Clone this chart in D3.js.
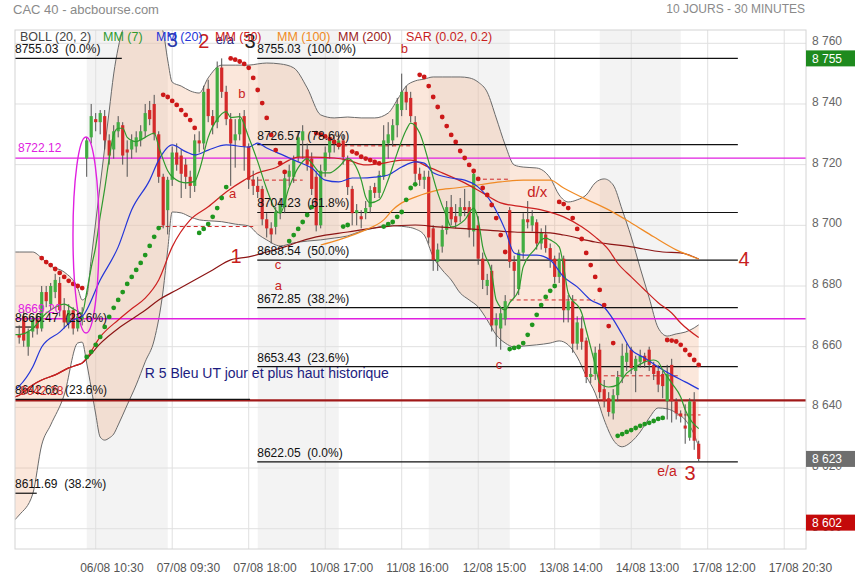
<!DOCTYPE html>
<html><head><meta charset="utf-8">
<script src="https://cdn.jsdelivr.net/npm/d3@7"></script>
<style>
body{margin:0;background:#fff}
svg{display:block}
text{font-family:"Liberation Sans",Arial,sans-serif}
</style></head>
<body><svg id="chart" width="855" height="580"></svg>
<script>
// ---------- DATA (30-minute candles, index 0 = 05/08 11:30) ----------
const opens=[8664,8670,8660,8665,8669,8666,8678,8674,8678,8681,
8672,8668,8672,8666,8669,8722,8729,8735,8734,8736,
8728,8725,8731,8733,8725,8725,8726,8728,8731,8738,
8740,8730,8716,8705,8715,8724,8723,8720,8716,8713,
8728,8727,8745,8736,8734,8752,8744,8735,8728,8730,
8736,8726,8715,8713,8712,8702,8699,8699.5,8704,8706,
8716,8716,8722.5,8728,8725,8722,8716,8700,8718,8724,
8728,8727,8728,8721.5,8712,8704,8703,8704,8706,8712.6,
8710.7,8716,8727,8728,8733,8738,8744,8742,8734,8717,
8715,8716,8699,8688,8693,8698.5,8706,8703,8703,8706,
8706,8698,8700,8689,8680,8685,8667,8666,8669,8705,
8688,8679,8691,8702,8700,8701,8694,8697,8692.5,8689,
8683,8689,8672,8675,8661,8666,8662,8650,8651,8659,
8646,8643,8638,8644,8650,8655,8659,8652,8655,8657,
8659,8654,8652,8651,8642,8654,8642,8638,8634,8630,
8642,8628];
const highs=[8667,8672,8666,8670,8671,8680,8680,8681,8684,8683,
8676,8674,8673,8672,8673,8729,8740,8737,8738,8738,
8730,8733,8736,8734,8728,8730,8731,8733,8740,8741,
8743,8731,8717,8716,8726,8727,8725,8722,8718,8730,
8731,8746,8748,8738,8754,8755.03,8746,8737,8735,8737,
8738,8727,8718,8716,8713,8704,8701,8706,8709,8717,
8720,8723,8731,8733,8727,8724,8718,8720,8726,8730,
8730,8730,8730,8723,8713,8707,8705,8708,8713,8714,
8718,8733,8734,8735,8742,8750,8746,8744,8736,8719,
8718,8718,8700,8694,8700,8708,8710,8707,8709,8712,
8708,8718,8703,8691,8684,8687,8671,8673,8677,8706,
8690,8692,8704,8708,8705,8702,8699,8700,8694,8690,
8691,8690,8677,8677,8670,8670,8663,8653,8660,8661,
8649,8645,8646,8652,8661,8661,8660,8657,8659,8658,
8660,8655,8654,8652,8654,8656,8643,8639,8641,8643,
8645,8629];
const lows=[8661,8660,8657,8663,8664,8665,8673,8672,8676,8670,
8666,8666,8664,8665,8667,8716,8727,8731,8730,8725,
8720,8722,8729,8720,8716,8722,8724,8726,8729,8733,
8728,8714,8699,8697,8713,8718,8709,8712,8709,8711,
8724,8725,8734,8730,8732,8742,8733,8713,8719,8728,
8718,8712,8710,8709,8700,8696,8694,8697,8702,8704,
8713,8714,8721,8722,8718,8710,8698,8699,8716,8722,
8724,8725,8720,8710,8700,8700,8699,8702,8704,8709,
8709,8715,8722,8726,8729,8736,8738,8734,8714,8713,
8712,8694,8685,8685,8691,8697,8700,8699,8701,8703,
8696,8693,8687,8679,8677,8665,8660,8659,8667,8686,
8676,8677,8689,8699,8698,8692,8692,8691,8686,8681,
8681,8668,8668,8658,8659,8659,8648,8648,8649,8643,
8640,8637,8636,8642,8648,8652,8651,8645,8653,8653,
8652,8649,8645,8643,8636,8635,8636,8635,8628,8629,
8626,8622.05];
const closes=[8663,8662,8665,8669,8666,8678,8675,8680,8682,8672,
8668,8672,8666,8670,8670,8728,8736,8734,8737,8728,
8723,8731,8734,8723,8724,8728,8729,8731,8737,8735,
8730,8716,8700,8715,8724,8720,8717,8716,8713,8728,
8727,8744,8736,8733,8752,8744,8735,8727,8730,8735,
8726,8715,8713,8711,8702,8699,8697,8704.5,8707,8715.5,
8718,8721.5,8729,8731,8720,8712,8700,8718,8724,8729,
8727,8728,8722.5,8712.6,8704,8705,8702,8705.7,8711.6,8710.7,
8716.6,8728,8730,8733,8740,8744,8740.5,8736,8717,8715,
8716,8696,8688.6,8692,8698.5,8706,8702,8701,8706,8705,
8698.5,8717,8689,8682,8682,8667,8669,8671,8675,8688,
8685,8691,8702,8701,8703,8694,8697.5,8692.5,8688.6,8683,
8689,8672,8675,8661,8668,8661.6,8650,8651,8658,8645,
8642,8638.5,8644,8650,8657,8658,8653,8656,8657,8655,
8654,8651,8647.5,8647,8651,8642,8638,8637,8633,8642,
8629,8623];

// Moving averages: [candle index, value]
const mm7=[[-1,8664],[0,8664],[3,8666],[6,8671],[8,8673],[10,8674],[12,8672.5],[14,8671],[15,8678],[16,8686],[17,8693],[18,8703],[19,8712],[20,8722],[21,8730],[22,8732],[23,8732],[24,8729],[26,8727.6],[28,8729],[30,8730.4],[31,8726],[33,8718],[34,8716],[37,8714],[39,8714.5],[40,8718],[42,8729],[44,8735],[46,8737.5],[47,8735.5],[49,8735.8],[51,8729],[53,8721],[55,8712],[57,8705],[58,8704],[60,8712.6],[62,8719],[64,8722],[65,8720.5],[67,8717.3],[69,8717.3],[71,8719.2],[73,8722],[76,8715],[77,8709.3],[78,8707.4],[80,8708.4],[82,8715],[84,8723.8],[86,8731.4],[87,8733.7],[89,8730.4],[91,8721],[93,8710.7],[95,8702.8],[96,8699.5],[99,8701.8],[101,8705.7],[102,8701.8],[103,8692.9],[105,8684.3],[106,8675.4],[108,8672.1],[109,8674.5],[111,8678.7],[112,8686.3],[115,8692.9],[116,8695.2],[117,8695.8],[118,8695.2],[120,8692.9],[121,8686.3],[122,8677.7],[125,8671.1],[126,8665.5],[128,8654],[129,8648],[131,8646.7],[133,8647.4],[135,8651.3],[137,8653.3],[139,8655],[141,8655.6],[142,8655],[143,8652.3],[145,8648],[147,8643.4],[148,8639.2],[151,8633]];
const mm20=[[-1,8645.7],[0,8647],[3,8653.3],[5,8659.9],[9,8664.8],[12,8668.8],[14,8670],[18,8682],[22,8692.9],[25,8705.1],[29,8714.9],[31,8721.5],[34,8726.5],[37,8724.3],[39,8723.2],[42,8724.8],[46,8726.5],[51,8725.8],[53,8727.1],[55,8725.5],[59,8722.9],[62,8720.9],[65,8718.9],[68,8714.9],[71,8714.3],[74,8715.6],[76,8715.6],[79,8715.9],[82,8716.6],[85,8719.2],[88,8720.9],[90,8720.5],[92,8717.3],[96,8715.6],[99,8714.9],[102,8712.6],[105,8707.4],[108,8698.5],[110,8690.9],[112,8690.2],[115,8690.2],[118,8688.6],[121,8683],[124,8679.7],[127,8675.4],[130,8673],[132,8669],[134,8664],[136,8659],[139,8656.3],[142,8653.3],[145,8650.7],[148,8648.4],[151,8646]];
const mm50=[[-1,8643.4],[0,8644],[3,8647.4],[5,8649],[8,8650.7],[11,8653],[13,8654],[14,8654.6],[15,8656.3],[18,8663.2],[22,8668.8],[25,8672.5],[28,8676],[31,8682],[34,8692.9],[38,8701.8],[42,8706.1],[46,8711],[50,8714.9],[53,8717.3],[57,8719],[60,8721.5],[62,8722.5],[65,8722.5],[70,8722.2],[73,8721.5],[77,8719.9],[81,8720.5],[85,8721.5],[87,8721.5],[91,8719.2],[94,8717.3],[99,8714],[103,8710.7],[107,8707.4],[112,8706.1],[116,8705.1],[121,8702.8],[125,8699.5],[128,8696.2],[131,8691.9],[133,8687.5],[136,8683],[139,8678.7],[142,8674.5],[145,8671.1],[147,8667.8],[151,8663]];
const mm100=[[67,8693.5],[71,8695.2],[73,8696.2],[77,8698.5],[81,8701.8],[83,8705.1],[85,8707.4],[88,8709.3],[93,8711.6],[97,8712.3],[102,8713.3],[107,8714.3],[112,8714.9],[118,8714.9],[121,8712.3],[125,8709.3],[131,8705.1],[136,8700.8],[141,8696.2],[146,8691.9],[151,8688.9]];
const mm200=[[-1,8643.4],[0,8644],[3,8647.4],[5,8649],[8,8650.7],[11,8653],[13,8654],[14,8654.6],[15,8656],[18,8661],[22,8666],[26,8670],[28,8672],[31,8675.4],[35,8678.7],[39,8682],[43,8685.3],[47,8688.6],[51,8689.6],[55,8691.2],[59,8692.9],[62,8694.5],[66,8696.2],[73,8697.8],[81,8699.5],[88,8700.1],[93,8699.5],[97,8699.1],[103,8698.5],[110,8697.8],[118,8697.5],[121,8696.8],[128,8694.5],[136,8692.9],[143,8691.2],[147,8690.9],[151,8688.9]];

// Bollinger (20,2)
const bbG=[-1,0,3,5,7,10,13,14,15,16,17,18,19,20,21,22,24,26,28,30,32,33,34,36,38,40,42,45,48,51,53,55,58,61,64,67,70,73,76,79,82,84,86,88,90,92,94,96,98,100,102,104,106,108,110,112,115,118,120,122,124,126,128,130,132,134,136,138,140,142,144,146,148,150,151];
const bbUp=[8691.2,8691.2,8691.2,8689.2,8686.6,8684.6,8679.3,8675.4,8676.7,8688.9,8701.1,8713.3,8725.5,8737.7,8749.9,8758.5,8768.3,8771.6,8771.6,8769.3,8763.7,8754.5,8747.2,8745.9,8744.3,8743.6,8748.6,8752.8,8752.8,8752.8,8753.2,8753.5,8753.2,8751.9,8745.3,8736.4,8735.4,8735.7,8735.4,8735.4,8737,8741.3,8745.9,8747.6,8748.2,8748.9,8748.9,8748.9,8748.9,8748.6,8747.2,8743.9,8735.4,8726.5,8719.9,8719.2,8718.9,8715.6,8710,8707.7,8708.4,8710,8714,8715.3,8713.3,8705.1,8696.2,8685.9,8676.1,8666.2,8663.5,8664.2,8664.8,8666.2,8667.2];
const bbLo=[8602.9,8604.5,8611.4,8627.6,8634.2,8644.1,8661.2,8661.5,8654.6,8646.4,8637.8,8630.2,8629.2,8629.9,8631.2,8634.2,8640.8,8647.4,8655,8662.2,8678.7,8691.9,8704.4,8704.1,8702.8,8701.8,8701.5,8701.2,8700.4,8699.8,8697.1,8695.2,8693.2,8694.2,8694.8,8695.2,8695.8,8696.5,8698.1,8699.1,8700.1,8699.8,8699.5,8698.8,8696.8,8689.6,8685.3,8682,8677.7,8675.4,8673.1,8668.8,8663.9,8661.2,8659.9,8660.2,8660.6,8661.2,8661.9,8660.6,8656.6,8650.3,8644.7,8635.9,8629.3,8627,8628.6,8631.9,8636.5,8639.8,8639.5,8638.2,8635.9,8631,8627];

// Parabolic SAR (0.02, 0.2): values from candle 5 on, side flips at listed indices
const sarStart=5;
const sarValues=[8689.2,8687.9,8686.9,8685.6,8684.3,8683.0,8681.7,8680.7,8680.0,8679.3,
8656.6,8658.3,8660.6,8663.2,8666.5,8669.8,8672.8,8675.4,8678.0,8680.7,8683.0,8685.3,8687.6,8690.2,8693.2,8696.2,8699.1,
8743.0,8742.3,8741.0,8739.7,8738.0,8736.4,8734.7,8732.1,
8697.5,8698.8,8700.4,8702.8,8705.7,8709.0,8712.6,
8755.0,8754.6,8754.0,8753.2,8751.9,8748.6,8744.6,8740.3,8735.4,8729.8,8724.8,8720.5,8717.6,
8694.8,8696.8,8698.8,8701.1,8703.4,8706.0,
8730.4,8729.9,8729.3,8728.5,8727.5,8726.5,
8699.6,8700.1,
8724.3,8723.7,8722.6,8722.0,8721.5,8720.9,8720.4,
8699.6,8700.4,8701.1,8702.8,8704.4,8708.4,8712.3,8713.5,
8749.6,8748.9,8745.9,8742.3,8739.0,8735.7,8732.7,8729.8,8727.5,8724.5,8722.2,8719.9,8717.9,8715.3,8712.3,8710.0,8706.7,8702.4,8696.8,8691.2,
8659.2,8659.6,8659.9,8661.2,8663.9,8667.2,8670.5,8673.7,8676.4,8678.4,8680.0,
8707.7,8707.0,8705.7,8702.4,8698.8,8695.5,8690.9,8686.9,8683.0,8678.7,8673.7,8666.8,8661.2,
8630.6,8631.2,8631.9,8632.5,8633.2,8633.9,8634.5,8634.9,8635.5,8636.2,8636.5,
8662.2,8662.0,8661.7,8660.6,8658.9,8657.3,8655.6,8654.0];
const sarFlips=[15,32,40,47,60,66,72,74,81,89,109,120,133,144]; // first segment above price

// Axis
const yTicks=[8600,8620,8640,8660,8680,8700,8720,8740,8760];
const yTickLabels=["8 600","8 620","8 640","8 660","8 680","8 700","8 720","8 740","8 760"];
const xTickG=[17,34,51,68,85,102,119,136,153,170];
const xTickLabels=["06/08 10:30","07/08 09:30","07/08 18:00","10/08 17:00","11/08 16:00","12/08 15:00","13/08 14:00","14/08 13:00","17/08 12:00","17/08 20:30"];
const dayBands=[[15,33],[53,71],[91,109],[129,147]];

// Drawings
const fibRight=[[8755.03,"100.0%"],[8726.57,"78.6%"],[8704.23,"61.8%"],[8688.54,"50.0%"],[8672.85,"38.2%"],[8653.43,"23.6%"],[8622.05,"0.0%"]];
const fibRightRange=[52.9,159.7];
const fibLeft=[[8755.03,"0.0%",22.8],[8666.47,"23.6%",3.6],[8642.66,"23.6%",51.3],[8611.69,"38.2%",3.9]];
const hLevels=[[8722.12,"8722.12"],[8669.20,"8669.20"]];
const resistance=8642.28;
const dashLevels=[[31,52,8699.6],[51.5,63,8714.9],[72,88,8726.2],[101.5,109,8715.2],[109,128,8675.4],[126.8,146.8,8650.4],[146.2,151.4,8637.5]];
const waveLabels=[["3",34,8758.9,"blue",20],["2",41,8758.6,"red",20],["e/a",45.7,8759.8,"navy",13],["3",51.3,8758.6,"dark",20],
["b",49.5,8742,"red",13],["a",47.4,8709,"red",13],["1",48.2,8687.6,"red",20],["c",57.5,8685.6,"red",13],["a",57.6,8678.7,"red",13],
["b",85.6,8756.8,"red",13],["d/x",115.1,8709.3,"red",15],["c",106.6,8652.6,"red",13],["4",161.1,8686.6,"red",20],
["e/a",143.95,8617.4,"red",14],["3",149.1,8616.1,"red",20]];
const noteText=["R 5 Bleu UT jour et plus haut historique",27.9,8649.7];
const ellipse=[14.85,8696.8,2.9,32.3];
const tagValues=[8755.03,8623,8602];
const tagLabels=["8 755","8 623","8 602"];

// ---------- DRAW ----------
const P={l:15,r:806,t:30,b:549};
const xs=d3.scaleLinear().domain([0,151]).range([19.2,698.7]);
const ys=d3.scaleLinear().domain([8600,8760]).range([528.7,43.3]);
const svg=d3.select("#chart");
const FONT='"Liberation Sans",Arial,sans-serif';
const C={green:"#42ad42",red:"#d42a2a",mm7:"#2f9a2f",mm20:"#2436d8",mm50:"#cc2020",mm100:"#f08a24",mm200:"#8c1414",
  magenta:"#e020e0",sarR:"#cc1818",sarG:"#1f961f",navy:"#1c1c80",blue:"#2a3aa8",dark:"#222"};

svg.append("rect").attr("width",855).attr("height",580).attr("fill","#fff");
svg.append("defs").append("clipPath").attr("id","clip").append("rect")
  .attr("x",P.l).attr("y",P.t).attr("width",P.r-P.l).attr("height",P.b-P.t);

// title
svg.append("text").attr("x",13).attr("y",14).attr("font-size",13).attr("fill","#8a8a8a").text("CAC 40 - abcbourse.com");
svg.append("text").attr("x",805).attr("y",13).attr("font-size",12).attr("text-anchor","end").attr("fill","#8a8a8a").text("10 JOURS - 30 MINUTES");

const plot=svg.append("g").attr("clip-path","url(#clip)");
// day bands
plot.selectAll(".band").data(dayBands).join("rect")
  .attr("x",d=>xs(d[0])).attr("width",d=>xs(d[1])-xs(d[0]))
  .attr("y",P.t).attr("height",P.b-P.t).attr("fill","#f3f3f3");
// grid
plot.selectAll(".hg").data(yTicks).join("line")
  .attr("x1",P.l).attr("x2",P.r).attr("y1",d=>ys(d)).attr("y2",d=>ys(d)).attr("stroke","#e0e0e0");
plot.selectAll(".vg").data(xTickG).join("line")
  .attr("x1",d=>xs(d)).attr("x2",d=>xs(d)).attr("y1",P.t).attr("y2",P.b).attr("stroke","#e0e0e0");

// Bollinger
const bb=bbG.map((g,i)=>[g,bbUp[i],bbLo[i]]);
const curve=d3.curveMonotoneX;
plot.append("path").datum(bb).attr("fill","rgba(242,170,125,0.28)")
  .attr("d",d3.area().x(d=>xs(d[0])).y0(d=>ys(d[2])).y1(d=>ys(d[1])).curve(curve));
plot.append("path").datum(bb).attr("fill","none").attr("stroke","#6a6a6a").attr("stroke-width",1)
  .attr("d",d3.line().x(d=>xs(d[0])).y(d=>ys(d[1])).curve(curve));
plot.append("path").datum(bb).attr("fill","none").attr("stroke","#6a6a6a").attr("stroke-width",1)
  .attr("d",d3.line().x(d=>xs(d[0])).y(d=>ys(d[2])).curve(curve));

// horizontal levels
plot.selectAll(".hl").data(hLevels).join("line")
  .attr("x1",P.l).attr("x2",P.r).attr("y1",d=>ys(d[0])).attr("y2",d=>ys(d[0]))
  .attr("stroke",C.magenta).attr("stroke-width",1.3);
plot.append("line").attr("x1",P.l).attr("x2",P.r).attr("y1",ys(resistance)).attr("y2",ys(resistance))
  .attr("stroke","#a01818").attr("stroke-width",2.2);
// fib lines
plot.selectAll(".fr").data(fibRight).join("line")
  .attr("x1",xs(fibRightRange[0])).attr("x2",xs(fibRightRange[1]))
  .attr("y1",d=>ys(d[0])).attr("y2",d=>ys(d[0])).attr("stroke","#111").attr("stroke-width",1.2);
plot.selectAll(".fl").data(fibLeft).join("line")
  .attr("x1",P.l).attr("x2",d=>xs(d[2]))
  .attr("y1",d=>ys(d[0])).attr("y2",d=>ys(d[0])).attr("stroke","#111").attr("stroke-width",1.2);
// dashed levels
plot.selectAll(".dl").data(dashLevels).join("line")
  .attr("x1",d=>xs(d[0])).attr("x2",d=>xs(d[1])).attr("y1",d=>ys(d[2])).attr("y2",d=>ys(d[2]))
  .attr("stroke","#d02828").attr("stroke-width",1).attr("stroke-dasharray","4,3");

// candles
const idx=d3.range(opens.length);
plot.selectAll(".wick").data(idx).join("line")
  .attr("x1",i=>xs(i)).attr("x2",i=>xs(i)).attr("y1",i=>ys(highs[i])).attr("y2",i=>ys(lows[i]))
  .attr("stroke","#505050").attr("stroke-width",1);
plot.selectAll(".body").data(idx).join("rect")
  .attr("x",i=>xs(i)-1.6).attr("width",3.2)
  .attr("y",i=>ys(Math.max(opens[i],closes[i])))
  .attr("height",i=>Math.max(1,ys(Math.min(opens[i],closes[i]))-ys(Math.max(opens[i],closes[i]))))
  .attr("fill",i=>closes[i]>=opens[i]?C.green:C.red);

// moving averages
const line=d3.line().x(d=>xs(d[0])).y(d=>ys(d[1])).curve(curve);
[[mm200,C.mm200],[mm100,C.mm100],[mm50,C.mm50],[mm20,C.mm20],[mm7,C.mm7]].forEach(([d,c])=>{
  plot.append("path").datum(d).attr("fill","none").attr("stroke",c).attr("stroke-width",1.2).attr("d",line);
});

// SAR
const sar=sarValues.map((v,k)=>{const g=k+sarStart;const seg=sarFlips.filter(f=>f<=g).length;return [g,v,seg%2===0];});
plot.selectAll(".sar").data(sar).join("circle")
  .attr("cx",d=>xs(d[0])).attr("cy",d=>ys(d[1])).attr("r",2.4)
  .attr("fill",d=>d[2]?C.sarR:C.sarG);

// ellipse
plot.append("ellipse").attr("cx",xs(ellipse[0])).attr("cy",ys(ellipse[1]))
  .attr("rx",xs(ellipse[2])-xs(0)).attr("ry",ys(ellipse[1]-ellipse[3])-ys(ellipse[1]))
  .attr("fill","none").attr("stroke",C.magenta).attr("stroke-width",1.4);

// border
svg.append("rect").attr("x",P.l).attr("y",P.t).attr("width",P.r-P.l).attr("height",P.b-P.t)
  .attr("fill","none").attr("stroke","#d4d4d4");

// labels on drawings
const T=svg.append("g").attr("font-family",FONT);
T.selectAll(".frt").data(fibRight).join("text")
  .attr("x",xs(fibRightRange[0])).attr("y",d=>ys(d[0])-5).attr("font-size",12).attr("fill","#111")
  .style("white-space","pre").text(d=>d[0].toFixed(2)+"  ("+d[1]+")");
T.selectAll(".flt").data(fibLeft).join("text")
  .attr("x",P.l).attr("y",d=>ys(d[0])-5).attr("font-size",12).attr("fill","#111")
  .style("white-space","pre").text(d=>d[0].toFixed(2)+"  ("+d[1]+")");
T.selectAll(".hlt").data(hLevels).join("text")
  .attr("x",18).attr("y",d=>ys(d[0])-6).attr("font-size",12).attr("fill",C.magenta).text(d=>d[1]);
T.append("text").attr("x",20).attr("y",ys(resistance)-5).attr("font-size",12).attr("fill","#d02828").text(resistance.toFixed(2));
T.append("text").attr("x",xs(noteText[1])).attr("y",ys(noteText[2])).attr("font-size",14).attr("fill",C.navy).text(noteText[0]);
T.selectAll(".wl").data(waveLabels).join("text")
  .attr("x",d=>xs(d[1])).attr("y",d=>ys(d[2])).attr("text-anchor","middle")
  .attr("font-size",d=>d[4]).attr("fill",d=>({red:"#c81e1e",blue:C.blue,navy:C.navy,dark:C.dark})[d[3]]).text(d=>d[0]);

// legend
const legend=[["BOLL (20, 2)","#444",20],["MM (7)",C.mm7,103],["MM (20)",C.mm20,156],["MM (50)",C.mm50,215],["MM (100)",C.mm100,277],["MM (200)","#9b1c1c",338],["SAR (0.02, 0.2)","#c81e1e",406]];
T.selectAll(".lg").data(legend).join("text").attr("x",d=>d[2]).attr("y",41).attr("font-size",12.5)
  .attr("fill",d=>d[1]).text(d=>d[0]);

// axes
const yAxis=d3.axisRight(ys).tickValues(yTicks).tickFormat((d,i)=>yTickLabels[i]).tickSize(0).tickPadding(6);
const ya=svg.append("g").attr("transform",`translate(${P.r},0)`).call(yAxis);
ya.select(".domain").remove();
ya.selectAll("text").attr("font-size",12).attr("font-family",FONT).attr("fill","#666").attr("dy","0.12em");
const xAxis=d3.axisBottom(xs).tickValues(xTickG).tickFormat((d,i)=>xTickLabels[i]).tickSize(0);
const xa=svg.append("g").attr("transform",`translate(0,${P.b})`).call(xAxis);
xa.select(".domain").remove();
xa.selectAll("text").attr("font-size",12).attr("font-family",FONT).attr("fill","#555")
  .attr("text-anchor","start").attr("x",-16).attr("y",23).attr("dy",0);

// price tags
const tagColors=["#1e8a1e","#6e6e6e","#c40a0a"];
tagValues.forEach((v,i)=>{
  svg.append("rect").attr("x",P.r).attr("y",ys(v)-8).attr("width",49).attr("height",16).attr("fill",tagColors[i]);
  svg.append("text").attr("x",P.r+6).attr("y",ys(v)+4.5).attr("font-size",12).attr("font-family",FONT)
    .attr("fill","#fff").text(tagLabels[i]);
});
</script></body></html>
